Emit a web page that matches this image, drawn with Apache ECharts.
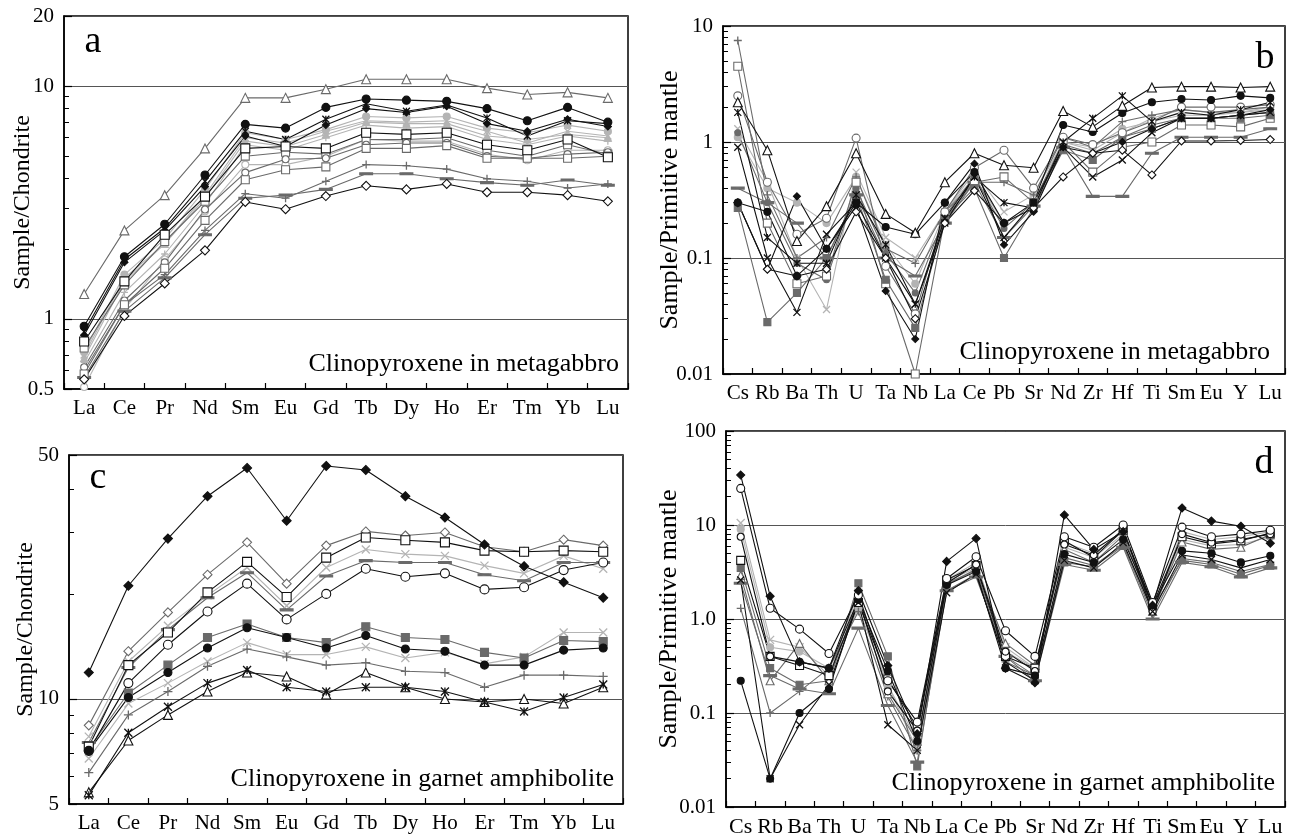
<!DOCTYPE html>
<html>
<head>
<meta charset="utf-8">
<script src="https://cdn.jsdelivr.net/npm/echarts@6/dist/echarts.min.js"></script>
<style>
html,body{margin:0;padding:0;background:#fff}
#echartsMain{width:1296px;height:836px}
</style>
</head>
<body>
<div id="echartsMain"></div>
<script>
// categories
var reeCats = ['La','Ce','Pr','Nd','Sm','Eu','Gd','Tb','Dy','Ho','Er','Tm','Yb','Lu'];
var spiderCats = ['Cs','Rb','Ba','Th','U','Ta','Nb','La','Ce','Pb','Sr','Nd','Zr','Hf','Ti','Sm','Eu','Y','Lu'];

// tick labels
var aTicks = [0.5, 1, 10, 20];
var bTicks = [0.01, 0.1, 1, 10];
var cTicks = [5, 10, 50];
var dTicks = [0.01, 0.1, 1, 10, 100];
var dTickText = ['0.01', '0.1', '1.0', '10', '100'];

// a: clinopyroxene in metagabbro, REE / chondrite
var aTriangle   = [1.28, 2.4, 3.4, 5.4, 8.9, 8.9, 9.7, 10.7, 10.7, 10.7, 9.8, 9.2, 9.4, 8.9];
var aDot        = [0.93, 1.85, 2.55, 4.15, 6.85, 6.6, 8.1, 8.8, 8.7, 8.6, 8.0, 7.1, 8.1, 7.0];
var aStar       = [0.88, 1.8, 2.45, 3.9, 6.4, 5.9, 7.2, 8.4, 7.8, 8.3, 7.3, 6.1, 7.1, 6.9];
var aDiamondFill= [0.85, 1.75, 2.4, 3.7, 6.1, 5.5, 6.8, 8.0, 7.7, 8.2, 6.9, 6.4, 7.2, 6.7];
var aGreyDot    = [0.72, 1.55, 2.2, 3.6, 6.3, 5.9, 6.5, 7.4, 7.3, 7.4, 6.6, 6.3, 6.8, 6.4];
var aGreyCross  = [0.7, 1.5, 2.1, 3.4, 6.0, 5.7, 6.4, 7.1, 7.0, 7.1, 6.4, 5.7, 6.4, 6.1];
var aGreyTri    = [0.68, 1.45, 2.1, 3.3, 5.8, 5.5, 6.2, 7.0, 6.9, 6.9, 6.1, 5.9, 6.2, 6.0];
var aGreyPlus   = [0.65, 1.3, 1.9, 3.1, 5.6, 5.3, 6.0, 6.8, 6.6, 6.7, 5.9, 5.6, 6.1, 5.8];
var aSquare     = [0.8, 1.45, 2.3, 3.35, 5.4, 5.5, 5.4, 6.3, 6.2, 6.3, 5.6, 5.3, 5.9, 4.95];
var aSquare2    = [0.75, 1.4, 2.15, 3.2, 5.0, 5.2, 5.1, 5.9, 5.9, 6.0, 5.3, 5.0, 5.6, 5.1];
var aCircle     = [0.62, 1.2, 1.75, 2.95, 4.25, 4.85, 4.9, 5.6, 5.7, 5.7, 5.0, 4.9, 5.1, 5.2];
var aSquare3    = [0.58, 1.15, 1.65, 2.65, 3.96, 4.37, 4.5, 5.4, 5.4, 5.55, 4.9, 4.9, 4.9, 5.0];
var aCircle2    = [0.51, 1.1, 1.8, 2.9, 4.6, 4.6, 5.0, 5.9, 5.8, 5.8, 5.1, 4.8, 5.3, 5.3];
var aPlus       = [0.6, 1.15, 1.55, 2.4, 3.45, 3.3, 3.9, 4.6, 4.55, 4.4, 4.0, 3.9, 3.65, 3.8];
var aDash       = [0.56, 1.08, 1.5, 2.3, 3.3, 3.4, 3.6, 4.2, 4.2, 4.0, 3.85, 3.75, 3.95, 3.75];
var aDiamond    = [0.55, 1.03, 1.42, 1.97, 3.18, 2.96, 3.37, 3.73, 3.6, 3.8, 3.5, 3.5, 3.4, 3.2];

// b: clinopyroxene in metagabbro, trace elements / primitive mantle
var bTriangle   = [2.2, 0.85, 0.14, 0.28, 0.8, 0.24, 0.165, 0.45, 0.8, 0.63, 0.6, 1.85, 1.35, 2.05, 2.95, 3.0, 3.0, 2.95, 3.0];
var bDot        = [0.3, 0.25, 0.07, 0.12, 0.3, 0.185, 0.16, 0.3, 0.55, 0.2, 0.3, 1.4, 1.22, 1.78, 2.2, 2.35, 2.3, 2.5, 2.4];
var bCircle     = [2.5, 0.45, 0.16, 0.22, 1.08, 0.085, 0.033, 0.25, 0.6, 0.85, 0.4, 1.1, 0.95, 1.2, 1.5, 2.0, 2.0, 2.0, 2.1];
var bPlus       = [7.5, 0.35, 0.1, 0.15, 0.5, 0.12, 0.09, 0.25, 0.45, 0.45, 0.35, 1.1, 0.9, 1.5, 1.7, 1.9, 1.8, 1.9, 2.0];
var bSquare     = [4.5, 0.2, 0.06, 0.07, 0.45, 0.06, 0.01, 0.22, 0.45, 0.5, 0.3, 1.0, 0.55, 0.9, 1.0, 1.4, 1.4, 1.35, 1.6];
var bCross      = [0.9, 0.1, 0.034, 0.16, 0.3, 0.1, 0.04, 0.2, 0.5, 0.15, 0.3, 0.9, 0.5, 0.7, 1.2, 1.6, 1.6, 1.7, 1.8];
var bDiamondFill= [0.3, 0.08, 0.34, 0.12, 0.28, 0.052, 0.02, 0.3, 0.65, 0.13, 0.25, 0.9, 0.8, 1.0, 1.3, 1.6, 1.6, 1.7, 1.9];
var bSquareFill = [0.27, 0.028, 0.05, 0.1, 0.35, 0.065, 0.025, 0.22, 0.4, 0.1, 0.27, 0.85, 0.7, 1.1, 1.3, 1.6, 1.6, 1.6, 1.7];
var bDiamond    = [0.3, 0.08, 0.07, 0.08, 0.25, 0.1, 0.03, 0.2, 0.38, 0.2, 0.27, 0.5, 0.8, 0.85, 0.52, 1.02, 1.02, 1.03, 1.05];
var bGreyDot    = [1.1, 0.4, 0.3, 0.2, 0.5, 0.13, 0.06, 0.25, 0.5, 0.2, 0.3, 1.0, 0.9, 1.3, 1.5, 1.7, 1.7, 1.8, 1.9];
var bGreyCross  = [1.3, 0.45, 0.1, 0.036, 0.55, 0.15, 0.1, 0.25, 0.55, 0.25, 0.35, 1.0, 0.85, 1.2, 1.6, 1.9, 1.8, 1.8, 2.0];
var bDash       = [0.4, 0.3, 0.2, 0.1, 0.35, 0.1, 0.07, 0.2, 0.45, 0.15, 0.28, 0.9, 0.34, 0.34, 0.8, 1.1, 1.1, 1.1, 1.3];
var bMidDot     = [1.2, 0.3, 0.09, 0.065, 0.4, 0.11, 0.05, 0.23, 0.5, 0.18, 0.3, 0.95, 0.8, 1.1, 1.4, 1.6, 1.6, 1.7, 1.8];
var bStar       = [1.8, 0.15, 0.09, 0.09, 0.35, 0.13, 0.04, 0.22, 0.5, 0.3, 0.27, 1.0, 1.6, 2.5, 1.5, 1.8, 1.7, 1.9, 2.2];

// c: clinopyroxene in garnet amphibolite, REE / chondrite
var cDiamondFill= [11.9, 21.1, 28.8, 38.1, 45.9, 32.4, 46.5, 45.3, 38.1, 33.1, 27.7, 24.0, 21.6, 19.5];
var cDiamond    = [8.4, 13.7, 17.7, 22.7, 28.1, 21.4, 27.5, 30.2, 29.4, 30.0, 27.3, 26.4, 28.6, 27.5];
var cSquare     = [7.3, 12.5, 15.5, 20.2, 24.7, 19.6, 25.4, 29.0, 28.5, 28.1, 26.6, 26.4, 26.6, 26.4];
var cGreyCross  = [7.8, 12.8, 16.2, 19.8, 23.8, 18.5, 23.8, 26.8, 26.0, 25.7, 24.1, 22.9, 25.7, 23.6];
var cDash       = [7.5, 12.3, 15.8, 19.5, 23.0, 18.0, 22.5, 24.9, 24.6, 24.6, 22.7, 21.8, 24.6, 24.6];
var cCircle     = [7.1, 11.1, 14.3, 17.8, 21.4, 16.9, 20.0, 23.6, 22.4, 22.9, 20.6, 20.9, 23.4, 24.6];
var cSquareFill = [7.2, 10.4, 12.5, 15.0, 16.4, 15.0, 14.5, 16.1, 15.0, 14.8, 13.6, 13.1, 14.7, 14.6];
var cDot        = [7.1, 10.1, 11.9, 14.0, 16.0, 15.0, 14.0, 15.2, 13.9, 13.7, 12.5, 12.5, 13.8, 14.0];
var cGreyCross2 = [6.75, 9.7, 11.1, 12.8, 14.5, 13.4, 13.4, 14.1, 13.1, 13.6, 12.6, 13.2, 15.5, 15.5];
var cPlus       = [6.15, 9.0, 10.5, 12.4, 13.9, 13.2, 12.5, 12.7, 12.0, 11.9, 10.8, 11.7, 11.7, 11.6];
var cStar       = [5.3, 8.0, 9.5, 11.1, 12.1, 10.8, 10.5, 10.8, 10.8, 10.5, 9.8, 9.2, 10.1, 11.0];
var cTriangle   = [5.4, 7.6, 9.0, 10.5, 11.9, 11.6, 10.3, 11.9, 10.8, 10.0, 9.8, 10.0, 9.7, 10.8];

// d: clinopyroxene in garnet amphibolite, trace elements / primitive mantle
var dDiamondFill= [34, 1.75, 0.35, 0.3, 2.0, 0.32, 0.06, 4.1, 7.2, 0.3, 0.21, 12.8, 5.5, 8.5, 1.4, 15.2, 11, 9.7, 6.4];
var dCircle     = [24.5, 1.3, 0.78, 0.43, 1.8, 0.22, 0.08, 2.7, 4.6, 0.75, 0.4, 7.5, 5.8, 10, 1.5, 9.5, 7.5, 8.0, 8.8];
var dGreyCross  = [10.5, 0.6, 0.5, 0.25, 1.9, 0.2, 0.05, 2.6, 4.0, 0.5, 0.3, 6.5, 5.0, 8.5, 1.3, 8.5, 7.0, 7.5, 8.5];
var dCircle2    = [7.5, 0.4, 0.35, 0.3, 1.6, 0.17, 0.065, 2.4, 3.8, 0.45, 0.28, 6.2, 4.8, 9, 1.2, 8.0, 6.5, 7.0, 8.0];
var dSquare     = [4.2, 0.4, 0.32, 0.25, 1.5, 0.23, 0.07, 2.6, 3.7, 0.4, 0.3, 6.8, 4.5, 8.8, 1.4, 7.5, 6.3, 6.8, 8.2];
var dTriangle   = [2.9, 0.22, 0.55, 0.22, 1.7, 0.16, 0.05, 2.3, 3.4, 0.55, 0.32, 5.5, 4.0, 7.7, 1.2, 6.6, 5.5, 5.8, 7.9];
var dDot        = [0.22, 0.02, 0.1, 0.18, 1.6, 0.28, 0.05, 2.3, 3.2, 0.3, 0.25, 4.9, 4.0, 7.0, 1.4, 5.3, 5.0, 4.0, 4.7];
var dCross      = [2.6, 0.02, 0.075, 0.2, 1.5, 0.075, 0.04, 1.9, 3.0, 0.35, 0.22, 4.2, 3.5, 6.5, 1.2, 4.8, 4.3, 3.5, 4.3];
var dPlus       = [1.3, 0.1, 0.17, 0.3, 1.2, 0.15, 0.04, 2.0, 3.0, 0.35, 0.25, 4.5, 3.7, 6.2, 1.1, 4.4, 4.0, 3.2, 3.8];
var dSquareFill = [3.5, 0.3, 0.2, 0.22, 2.4, 0.4, 0.027, 2.4, 3.3, 0.4, 0.25, 4.0, 3.6, 6.0, 1.3, 4.2, 3.8, 3.0, 3.7];
var dDash       = [2.4, 0.25, 0.18, 0.16, 0.8, 0.12, 0.03, 2.0, 2.8, 0.4, 0.22, 3.8, 3.3, 5.8, 1.0, 4.0, 3.6, 2.8, 3.5];
var dGreyDot    = [9, 0.5, 0.45, 0.3, 1.3, 0.2, 0.04, 2.5, 3.5, 0.45, 0.3, 5.8, 4.5, 8.0, 1.3, 7.0, 6.0, 6.2, 7.5];

var SERIF = 'Liberation Serif';
var K = '#111', G = '#6a6a6a', L = '#b4b4b4';
var PLUS = 'path://M5,0L5,10M0,5L10,5';
var CROSS = 'path://M0,0L10,10M10,0L0,10';
var STAR = 'path://M0,0L10,10M10,0L0,10M5,0L5,10';

function xAxisOf(p, cats, fs) {
	return {
		type: 'category', gridIndex: p, data: cats, boundaryGap: true,
		axisLine: { show: true, lineStyle: { color: '#000', width: 1.5 } },
		axisTick: { show: true, inside: true, length: 6, interval: 0, lineStyle: { color: '#000', width: 1.2 } },
		axisLabel: { interval: 0, color: '#000', fontFamily: SERIF, fontSize: fs, margin: 9, hideOverlap: false },
		splitLine: { show: false }
	};
}

// log axis; minor ticks split each decade into 2..9
function yAxisOf(p, ticks, texts, name, gap, nameSize) {
	return {
		type: 'log', gridIndex: p, logBase: 10,
		min: ticks[0], max: ticks[ticks.length - 1],
		axisLine: { show: true, lineStyle: { color: '#000', width: 1.5 } },
		axisTick: { show: true, inside: true, length: 8, customValues: ticks, lineStyle: { color: '#000', width: 1.2 } },
		minorTick: { show: true, splitNumber: 9, length: 5, lineStyle: { color: '#000', width: 1 } },
		axisLabel: {
			customValues: ticks, color: '#000', fontFamily: SERIF, fontSize: 21, margin: 10,
			formatter: function (v) {
				for (var i = 0; i < ticks.length; i++) {
					if (Math.abs(v / ticks[i] - 1) < 1e-6) return texts ? texts[i] : String(ticks[i]);
				}
				return '';
			}
		},
		splitLine: { show: true, lineStyle: { color: '#555', width: 1 } },
		name: name, nameLocation: 'middle', nameGap: gap, nameMoveOverlap: false,
		nameTextStyle: { fontFamily: SERIF, fontSize: nameSize, color: '#000' }
	};
}

// one sample line
function mk(p, data, sym, col, open, size) {
	var isPath = sym.indexOf('path://') === 0;
	return {
		type: 'line', xAxisIndex: p, yAxisIndex: p, data: data,
		symbol: sym, symbolSize: size || 7, showSymbol: true, silent: true,
		lineStyle: { color: col, width: 1.1 },
		itemStyle: { color: isPath ? col : (open ? '#fff' : col), borderColor: col, borderWidth: isPath ? 1.3 : 1.1 },
		emphasis: { disabled: true }
	};
}

var series = [
	// a
	mk(0, aGreyPlus, PLUS, L, false, 7),
	mk(0, aGreyTri, 'triangle', L, false, 7),
	mk(0, aGreyCross, CROSS, L, false, 7),
	mk(0, aGreyDot, 'circle', L, false, 7),
	mk(0, aCircle2, 'circle', L, true, 7),
	mk(0, aPlus, PLUS, G, false, 8),
	mk(0, aDash, 'rect', G, false, [9, 2]),
	mk(0, aSquare2, 'rect', G, true, 8),
	mk(0, aCircle, 'circle', G, true, 7),
	mk(0, aSquare3, 'rect', G, true, 8),
	mk(0, aTriangle, 'triangle', G, true, 9),
	mk(0, aDiamondFill, 'diamond', K, false, 7),
	mk(0, aStar, STAR, K, false, 7),
	mk(0, aSquare, 'rect', K, true, 9),
	mk(0, aDot, 'circle', K, false, 8),
	mk(0, aDiamond, 'diamond', K, true, 9),
	// b
	mk(1, bGreyDot, 'circle', L, false, 7),
	mk(1, bGreyCross, CROSS, L, false, 7),
	mk(1, bDash, 'rect', G, false, [9, 2]),
	mk(1, bMidDot, 'circle', G, false, 6),
	mk(1, bPlus, PLUS, G, false, 8),
	mk(1, bSquare, 'rect', G, true, 8),
	mk(1, bSquareFill, 'rect', G, false, 7),
	mk(1, bCircle, 'circle', G, true, 8),
	mk(1, bCross, CROSS, K, false, 7),
	mk(1, bStar, STAR, K, false, 7),
	mk(1, bDiamondFill, 'diamond', K, false, 7),
	mk(1, bDiamond, 'diamond', K, true, 8),
	mk(1, bDot, 'circle', K, false, 7),
	mk(1, bTriangle, 'triangle', K, true, 9),
	// c
	mk(2, cGreyCross, CROSS, L, false, 8),
	mk(2, cGreyCross2, CROSS, L, false, 8),
	mk(2, cDash, 'rect', G, false, [9, 2]),
	mk(2, cPlus, PLUS, G, false, 9),
	mk(2, cSquareFill, 'rect', G, false, 8),
	mk(2, cDiamond, 'diamond', G, true, 9),
	mk(2, cTriangle, 'triangle', K, true, 9),
	mk(2, cStar, STAR, K, false, 8),
	mk(2, cSquare, 'rect', K, true, 9),
	mk(2, cCircle, 'circle', K, true, 9),
	mk(2, cDot, 'circle', K, false, 8),
	mk(2, cDiamondFill, 'diamond', K, false, 9),
	// d
	mk(3, dGreyDot, 'circle', L, false, 7),
	mk(3, dGreyCross, CROSS, L, false, 8),
	mk(3, dDash, 'rect', G, false, [9, 2]),
	mk(3, dPlus, PLUS, G, false, 8),
	mk(3, dSquareFill, 'rect', G, false, 7),
	mk(3, dTriangle, 'triangle', G, true, 8),
	mk(3, dSquare, 'rect', K, true, 8),
	mk(3, dCircle2, 'circle', K, true, 7),
	mk(3, dCross, CROSS, K, false, 7),
	mk(3, dDot, 'circle', K, false, 7),
	mk(3, dCircle, 'circle', K, true, 8),
	mk(3, dDiamondFill, 'diamond', K, false, 8)
];

function label(text, x, y, size, align) {
	return {
		type: 'text', x: x, y: y, silent: true, z: 50,
		style: {
			text: text, font: size + 'px "' + SERIF + '"', fill: '#000',
			align: align, textAlign: align, verticalAlign: 'middle', textVerticalAlign: 'middle'
		}
	};
}

var gridStyle = { show: true, borderColor: '#000', borderWidth: 1.5, backgroundColor: 'transparent', containLabel: false, outerBoundsMode: 'none' };

var myChart = echarts.init(document.getElementById('echartsMain'), null, { renderer: 'canvas' });

var option = {
	animation: false,
	backgroundColor: '#fff',
	grid: [
		Object.assign({ left: 64, top: 16, width: 564, height: 373 }, gridStyle),
		Object.assign({ left: 723, top: 26, width: 562, height: 348 }, gridStyle),
		Object.assign({ left: 69, top: 455, width: 554, height: 349 }, gridStyle),
		Object.assign({ left: 726, top: 431, width: 559, height: 376 }, gridStyle)
	],
	xAxis: [
		xAxisOf(0, reeCats, 21),
		xAxisOf(1, spiderCats, 21),
		xAxisOf(2, reeCats, 21),
		xAxisOf(3, spiderCats, 22)
	],
	yAxis: [
		yAxisOf(0, aTicks, null, 'Sample/Chondrite', 29, 24),
		yAxisOf(1, bTicks, null, 'Sample/Primitive mantle', 40, 26),
		yAxisOf(2, cTicks, null, 'Sample/Chondrite', 31, 24),
		yAxisOf(3, dTicks, dTickText, 'Sample/Primitive mantle', 44, 26)
	],
	graphic: [
		label('a', 93, 42, 38, 'center'),
		label('b', 1265, 58, 38, 'center'),
		label('c', 98, 478, 38, 'center'),
		label('d', 1264, 463, 38, 'center'),
		label('Clinopyroxene in metagabbro', 619, 364, 26, 'right'),
		label('Clinopyroxene in metagabbro', 1270, 352, 26, 'right'),
		label('Clinopyroxene in garnet amphibolite', 614, 779, 26, 'right'),
		label('Clinopyroxene in garnet amphibolite', 1275, 783, 26, 'right')
	],
	series: series
};

myChart.setOption(option);
</script>
</body>
</html>
